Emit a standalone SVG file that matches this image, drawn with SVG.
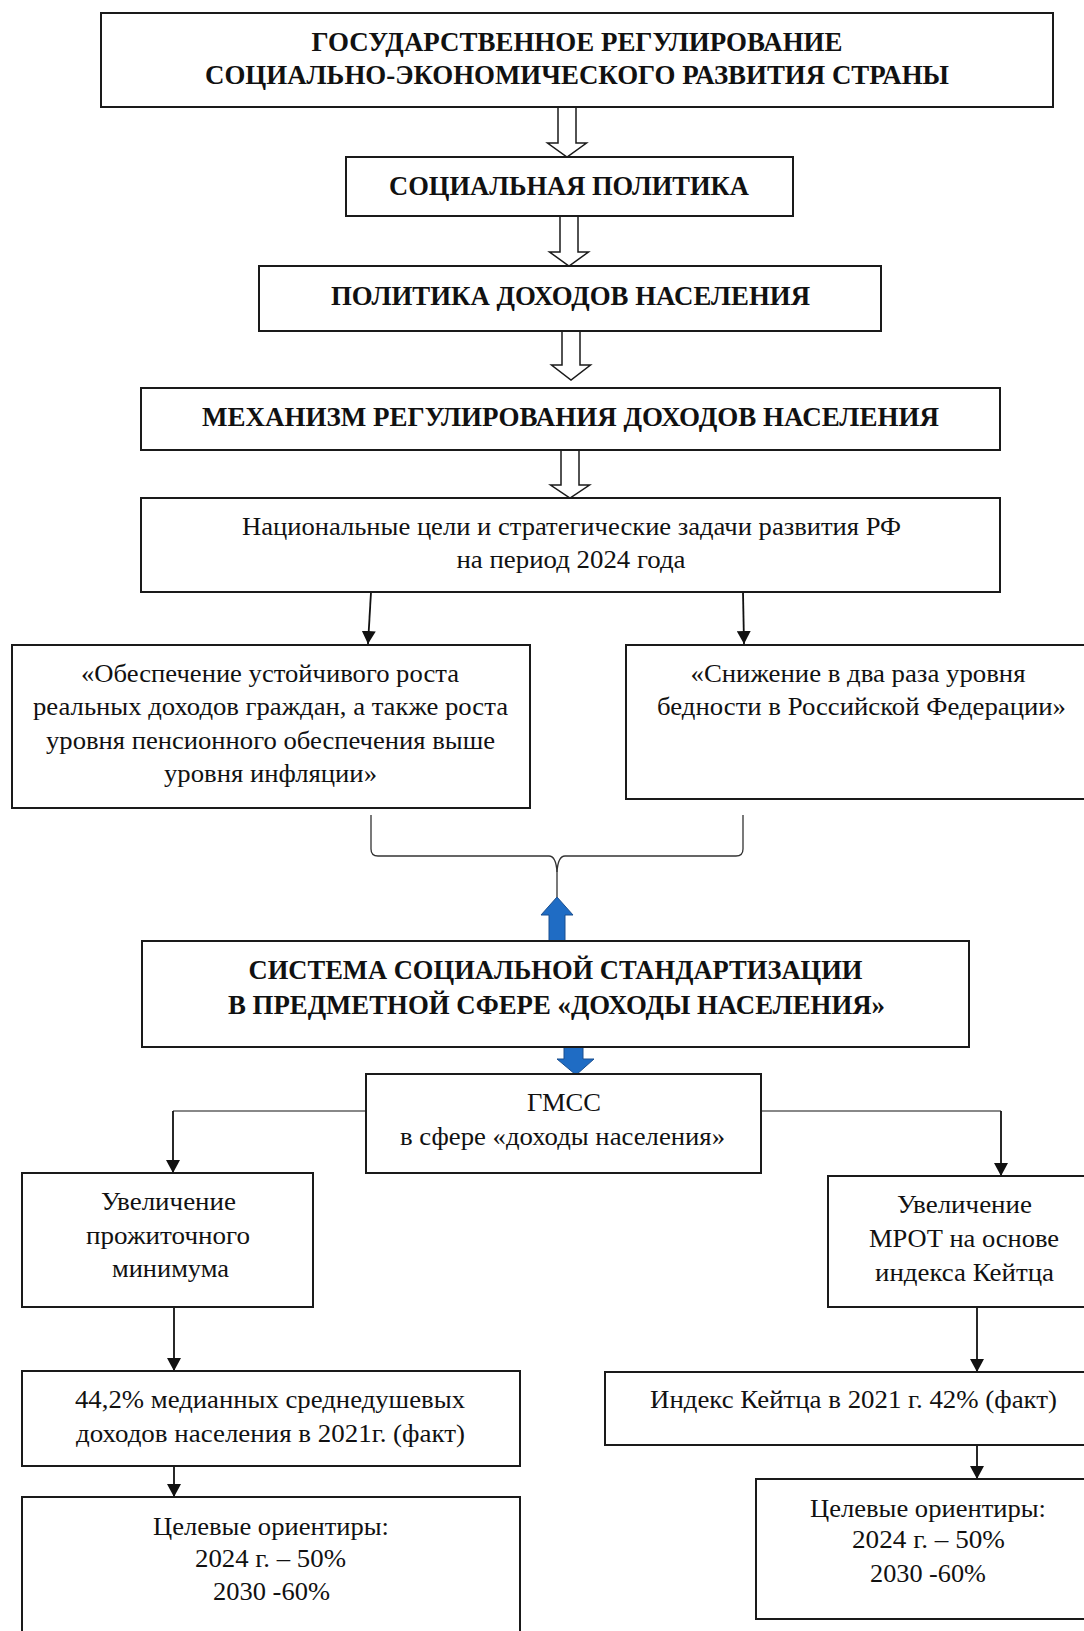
<svg xmlns="http://www.w3.org/2000/svg" width="1084" height="1631" viewBox="0 0 1084 1631">
<style>
.box{fill:#fff;stroke:#1a1a1a;stroke-width:2}
.h{font-family:"Liberation Serif","Times New Roman",serif;font-weight:bold;font-size:27px;fill:#111;text-anchor:middle}
.t{font-family:"Liberation Serif","Times New Roman",serif;font-size:26px;fill:#111;text-anchor:middle}
.hol{fill:#fff;stroke:#1a1a1a;stroke-width:1.5}
.ln{fill:none;stroke:#111;stroke-width:1.8}
.gr{fill:none;stroke:#888;stroke-width:1.8}
.br{fill:none;stroke:#333;stroke-width:1.3}
.blue{fill:#1f6cc4;stroke:#1b4f8f;stroke-width:1}
</style>
<defs>
<marker id="ah" markerUnits="userSpaceOnUse" markerWidth="14" markerHeight="14" viewBox="0 0 14 14" refX="13" refY="7" orient="auto">
<path d="M0,0 L13,7 L0,14 Z" fill="#111"/>
</marker>
</defs>
<rect width="1084" height="1631" fill="#fff"/>

<g id="connectors">
<path class="hol" d="M558,108 L558,143 L547.5,143 L567,157 L586.5,143 L576,143 L576,108"/>
<path class="hol" d="M560,216 L560,252 L549.5,252 L569,266 L588.5,252 L578,252 L578,216"/>
<path class="hol" d="M562,331 L562,365 L551.5,365 L571,380 L590.5,365 L580,365 L580,331"/>
<path class="hol" d="M561,450 L561,485 L550.5,485 L570,498 L589.5,485 L579,485 L579,450"/>
<path class="ln" d="M371,592 L368,644" marker-end="url(#ah)"/>
<path class="ln" d="M743,592 L744,644" marker-end="url(#ah)"/>
<path class="br" d="M371,815 L371,849 Q371,856 378,856 L549,856 Q556,856 557,872 L557,897"/>
<path class="br" d="M743,815 L743,849 Q743,856 736,856 L565,856 Q558,856 557,872"/>
<polygon class="blue" points="557,897 541,915 549,915 549,942 565,942 565,915 573,915"/>
<polygon class="blue" points="564,1046 583,1046 583,1059 594,1059 576,1075 557,1059 564,1059"/>
<path class="gr" d="M366,1111 L173,1111"/>
<path class="ln" d="M173,1111 L173,1173" marker-end="url(#ah)"/>
<path class="gr" d="M761,1111 L1001,1111"/>
<path class="ln" d="M1001,1111 L1001,1176" marker-end="url(#ah)"/>
<path class="ln" d="M174,1307 L174,1371" marker-end="url(#ah)"/>
<path class="ln" d="M174,1466 L174,1497" marker-end="url(#ah)"/>
<path class="ln" d="M977,1307 L977,1372" marker-end="url(#ah)"/>
<path class="ln" d="M977,1445 L977,1479" marker-end="url(#ah)"/>
</g>

<g id="n1"><rect class="box" x="101" y="13" width="952" height="94"/>
<text class="h" x="577" y="51" textLength="531" lengthAdjust="spacingAndGlyphs">ГОСУДАРСТВЕННОЕ РЕГУЛИРОВАНИЕ</text>
<text class="h" x="577" y="84" textLength="744" lengthAdjust="spacingAndGlyphs">СОЦИАЛЬНО-ЭКОНОМИЧЕСКОГО РАЗВИТИЯ СТРАНЫ</text></g>

<g id="n2"><rect class="box" x="346" y="157" width="447" height="59"/>
<text class="h" x="569" y="195" textLength="360" lengthAdjust="spacingAndGlyphs">СОЦИАЛЬНАЯ ПОЛИТИКА</text></g>

<g id="n3"><rect class="box" x="259" y="266" width="622" height="65"/>
<text class="h" x="570.5" y="305" textLength="479" lengthAdjust="spacingAndGlyphs">ПОЛИТИКА ДОХОДОВ НАСЕЛЕНИЯ</text></g>

<g id="n4"><rect class="box" x="141" y="388" width="859" height="62"/>
<text class="h" x="570.5" y="426" textLength="737" lengthAdjust="spacingAndGlyphs">МЕХАНИЗМ РЕГУЛИРОВАНИЯ ДОХОДОВ НАСЕЛЕНИЯ</text></g>

<g id="n5"><rect class="box" x="141" y="498" width="859" height="94"/>
<text class="t" x="571.5" y="535" textLength="659" lengthAdjust="spacingAndGlyphs">Национальные цели и стратегические задачи развития РФ</text>
<text class="t" x="571" y="568" textLength="229" lengthAdjust="spacingAndGlyphs">на период 2024 года</text></g>

<g id="n6"><rect class="box" x="12" y="645" width="518" height="163"/>
<text class="t" x="270" y="682" textLength="378" lengthAdjust="spacingAndGlyphs">«Обеспечение устойчивого роста</text>
<text class="t" x="270.5" y="715" textLength="475" lengthAdjust="spacingAndGlyphs">реальных доходов граждан, а также роста</text>
<text class="t" x="270.5" y="749" textLength="449" lengthAdjust="spacingAndGlyphs">уровня пенсионного обеспечения выше</text>
<text class="t" x="270.5" y="782" textLength="213" lengthAdjust="spacingAndGlyphs">уровня инфляции»</text></g>

<g id="n7"><rect class="box" x="626" y="645" width="470" height="154"/>
<text class="t" x="858" y="682" textLength="335" lengthAdjust="spacingAndGlyphs">«Снижение в два раза уровня</text>
<text class="t" x="861.5" y="715" textLength="409" lengthAdjust="spacingAndGlyphs">бедности в Российской Федерации»</text></g>

<g id="n8"><rect class="box" x="142" y="941" width="827" height="106"/>
<text class="h" x="555.5" y="979" textLength="614" lengthAdjust="spacingAndGlyphs">СИСТЕМА СОЦИАЛЬНОЙ СТАНДАРТИЗАЦИИ</text>
<text class="h" x="556.5" y="1014" textLength="657" lengthAdjust="spacingAndGlyphs">В ПРЕДМЕТНОЙ СФЕРЕ «ДОХОДЫ НАСЕЛЕНИЯ»</text></g>

<g id="n9"><rect class="box" x="366" y="1074" width="395" height="99"/>
<text class="t" x="564" y="1111" textLength="74" lengthAdjust="spacingAndGlyphs">ГМСС</text>
<text class="t" x="562.5" y="1145" textLength="325" lengthAdjust="spacingAndGlyphs">в сфере «доходы населения»</text></g>

<g id="n10"><rect class="box" x="22" y="1173" width="291" height="134"/>
<text class="t" x="168.5" y="1210" textLength="135" lengthAdjust="spacingAndGlyphs">Увеличение</text>
<text class="t" x="168" y="1244" textLength="164" lengthAdjust="spacingAndGlyphs">прожиточного</text>
<text class="t" x="170.5" y="1277" textLength="117" lengthAdjust="spacingAndGlyphs">минимума</text></g>

<g id="n11"><rect class="box" x="828" y="1176" width="268" height="131"/>
<text class="t" x="964.5" y="1213" textLength="135" lengthAdjust="spacingAndGlyphs">Увеличение</text>
<text class="t" x="964" y="1247" textLength="190" lengthAdjust="spacingAndGlyphs">МРОТ на основе</text>
<text class="t" x="964.5" y="1281" textLength="179" lengthAdjust="spacingAndGlyphs">индекса Кейтца</text></g>

<g id="n12"><rect class="box" x="22" y="1371" width="498" height="95"/>
<text class="t" x="270" y="1408" textLength="390" lengthAdjust="spacingAndGlyphs">44,2% медианных среднедушевых</text>
<text class="t" x="270.5" y="1442" textLength="389" lengthAdjust="spacingAndGlyphs">доходов населения в 2021г. (факт)</text></g>

<g id="n13"><rect class="box" x="605" y="1372" width="491" height="73"/>
<text class="t" x="853.5" y="1408" textLength="407" lengthAdjust="spacingAndGlyphs">Индекс Кейтца в 2021 г. 42% (факт)</text></g>

<g id="n14"><rect class="box" x="22" y="1497" width="498" height="150"/>
<text class="t" x="271" y="1535" textLength="236" lengthAdjust="spacingAndGlyphs">Целевые ориентиры:</text>
<text class="t" x="270.5" y="1567" textLength="151" lengthAdjust="spacingAndGlyphs">2024 г. – 50%</text>
<text class="t" x="271.5" y="1600" textLength="117" lengthAdjust="spacingAndGlyphs">2030 -60%</text></g>

<g id="n15"><rect class="box" x="756" y="1479" width="340" height="140"/>
<text class="t" x="928" y="1517" textLength="236" lengthAdjust="spacingAndGlyphs">Целевые ориентиры:</text>
<text class="t" x="928.5" y="1548" textLength="153" lengthAdjust="spacingAndGlyphs">2024 г. – 50%</text>
<text class="t" x="928" y="1582" textLength="116" lengthAdjust="spacingAndGlyphs">2030 -60%</text></g>
</svg>
